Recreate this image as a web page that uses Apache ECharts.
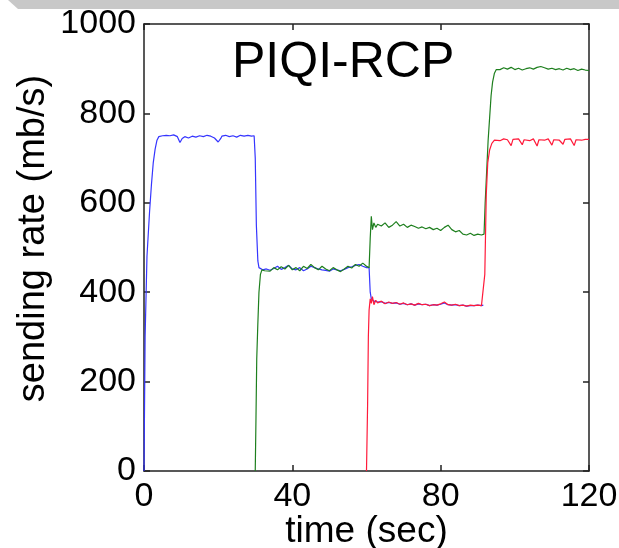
<!DOCTYPE html>
<html>
<head>
<meta charset="utf-8">
<script src="https://cdn.jsdelivr.net/npm/echarts@6/dist/echarts.min.js"></script>
<style>
html,body{margin:0;padding:0;background:#fff;}
#c{width:619px;height:548px;}
</style>
</head>
<body>
<div id="c"></div>
<script>
const titleText = "PIQI-RCP";
const xName = "time (sec)";
const yName = "sending rate (mb/s)";
const xTicks = [0, 40, 80, 120];
const yTicks = [0, 200, 400, 600, 800, 1000];

const blueTime = [0,0.3,0.8,1.5,2,2.5,3,3.5,4,5,6,7,8,9,9.7,10.3,11,12,13,14,15,16,17,18,19,20,20.7,21,22,23,24,25,26,27,28,29,29.7,30,30.3,30.7,31,31.5,32,33,34,35,36,37,38,39,40,41,42,43,44,45,46,47,48,49,50,51,52,53,54,55,56,57,58,59,60,60.7,61,61.3,62,63,64,65,66,67,68,69,70,71,72,73,74,75,76,77,78,79,80,81,82,83,84,85,86,87,88,89,90,91,91.5];
const blueRate = [0,300,480,580,640,690,720,740,748,750,751,750,752,748,735,744,748,745,749,747,750,748,751,749,745,736,744,749,751,748,750,747,751,749,751,749,750,700,550,470,455,452,450,452,449,453,458,451,455,460,452,450,455,448,452,458,455,452,450,449,447,452,450,448,451,455,457,460,462,458,455,455,400,385,380,378,379,375,377,375,376,373,375,372,374,371,374,372,373,370,372,371,373,376,372,371,372,370,371,369,370,370,371,370,371];

const greenTime = [30,30.2,30.4,30.7,31,31.4,31.8,32.5,33,34,35,36,37,38,39,40,41,42,43,44,45,46,47,48,49,50,51,52,53,54,55,56,57,58,59,60,60.7,61,61.3,61.6,62,62.5,63,64,65,66,67,68,69,70,71,72,73,74,75,76,77,78,79,80,81,82,83,84,85,86,87,88,89,90,91,91.7,92,92.4,92.8,93.2,93.6,94,94.5,95,95.5,96,97,98,99,100,101,102,103,104,105,106,107,107.5,108,109,110,111,112,113,114,115,116,117,118,119,120];
const greenRate = [0,120,250,330,400,440,450,448,452,447,455,450,457,452,460,450,455,448,458,453,462,455,450,458,452,448,455,450,446,452,458,454,462,458,465,458,455,520,570,540,555,545,552,548,555,545,550,558,548,552,545,550,547,543,546,542,545,540,543,538,545,550,540,535,538,530,528,532,527,530,528,530,600,670,740,790,840,870,890,898,901,898,902,899,903,898,901,897,900,902,899,903,905,907,902,899,901,898,900,897,901,898,900,896,899,897,896];

const redTime = [60,60.3,60.5,60.7,61,61.3,61.6,62,62.5,63,64,65,66,67,68,69,70,71,72,73,74,75,76,77,78,79,80,81,82,83,84,85,86,87,88,89,90,91,91.5,91.9,92.3,92.7,93.2,93.8,94.5,95,96,97,98,99,99.5,100,101,102,102.5,103,104,105,106,106.5,107,108,109,110,110.5,111,112,113,113.5,114,115,116,116.5,117,118,119,120];
const redRate = [0,150,300,360,385,375,390,372,382,376,380,374,378,375,377,373,376,372,374,371,375,372,373,370,372,371,374,378,372,371,373,370,371,369,371,370,371,370,372,440,620,690,718,733,740,742,739,743,741,728,742,740,743,730,741,742,739,743,727,741,742,740,743,729,741,742,740,731,742,741,743,728,741,742,740,742,742];

function pairs(t, v){ return t.map((x,i)=>[x, v[i]]); }

const FONT = "Liberation Sans, Arial, sans-serif";
const chart = echarts.init(document.getElementById('c'), null, {renderer:'canvas'});

const frame = {lineStyle:{color:'#222', width:1.5}};
const plain = v => String(v);
chart.setOption({
  animation:false,
  backgroundColor:'#ffffff',
  textStyle:{fontFamily:FONT},
  title:{
    text:titleText, left:232, top:38, padding:0,
    textStyle:{fontFamily:FONT, fontSize:50, fontWeight:'normal', color:'#000'}
  },
  grid:{left:144, right:30, top:24, bottom:77, containLabel:false, outerBoundsMode:'none'},
  graphic:[{
    type:'polygon', silent:true, z:-1,
    shape:{points:[[8,0],[619,0],[619,9],[18,9]]},
    style:{fill:'#c8c8c8'}
  }],
  xAxis:[{
    type:'value', min:xTicks[0], max:xTicks[xTicks.length-1], interval:40,
    name:xName, nameLocation:'middle', nameGap:42, nameMoveOverlap:false,
    nameTextStyle:{fontFamily:FONT, fontSize:37, color:'#000'},
    axisLine:{show:true, onZero:false, lineStyle:frame.lineStyle},
    axisTick:{show:true, inside:true, length:6, lineStyle:frame.lineStyle},
    axisLabel:{fontFamily:FONT, fontSize:34, color:'#000', margin:9, formatter:plain},
    splitLine:{show:false}
  },{
    type:'value', position:'top', min:xTicks[0], max:xTicks[xTicks.length-1], interval:40,
    axisLine:{show:true, onZero:false, lineStyle:frame.lineStyle},
    axisTick:{show:true, inside:true, length:6, lineStyle:frame.lineStyle},
    axisLabel:{show:false}, splitLine:{show:false}
  }],
  yAxis:[{
    type:'value', min:yTicks[0], max:yTicks[yTicks.length-1], interval:200,
    name:yName, nameLocation:'middle', nameGap:91, nameRotate:90, nameMoveOverlap:false,
    nameTextStyle:{fontFamily:FONT, fontSize:38, color:'#000', padding:[0,0,0,18]},
    axisLine:{show:true, onZero:false, lineStyle:frame.lineStyle},
    axisTick:{show:true, inside:true, length:6, lineStyle:frame.lineStyle},
    axisLabel:{fontFamily:FONT, fontSize:34, color:'#000', margin:8, formatter:plain},
    splitLine:{show:false}
  },{
    type:'value', position:'right', min:yTicks[0], max:yTicks[yTicks.length-1], interval:200,
    axisLine:{show:true, onZero:false, lineStyle:frame.lineStyle},
    axisTick:{show:true, inside:true, length:6, lineStyle:frame.lineStyle},
    axisLabel:{show:false}, splitLine:{show:false}
  }],
  series:[
    {type:'line', name:'blue', data:pairs(blueTime, blueRate), showSymbol:false, symbol:'none',
     lineStyle:{color:'#3535ff', width:1.2}, clip:true},
    {type:'line', name:'green', data:pairs(greenTime, greenRate), showSymbol:false, symbol:'none',
     lineStyle:{color:'#1e7f1e', width:1.2}, clip:true},
    {type:'line', name:'red', data:pairs(redTime, redRate), showSymbol:false, symbol:'none',
     lineStyle:{color:'#ff1a3a', width:1.2}, clip:true}
  ]
});
</script>
</body>
</html>
